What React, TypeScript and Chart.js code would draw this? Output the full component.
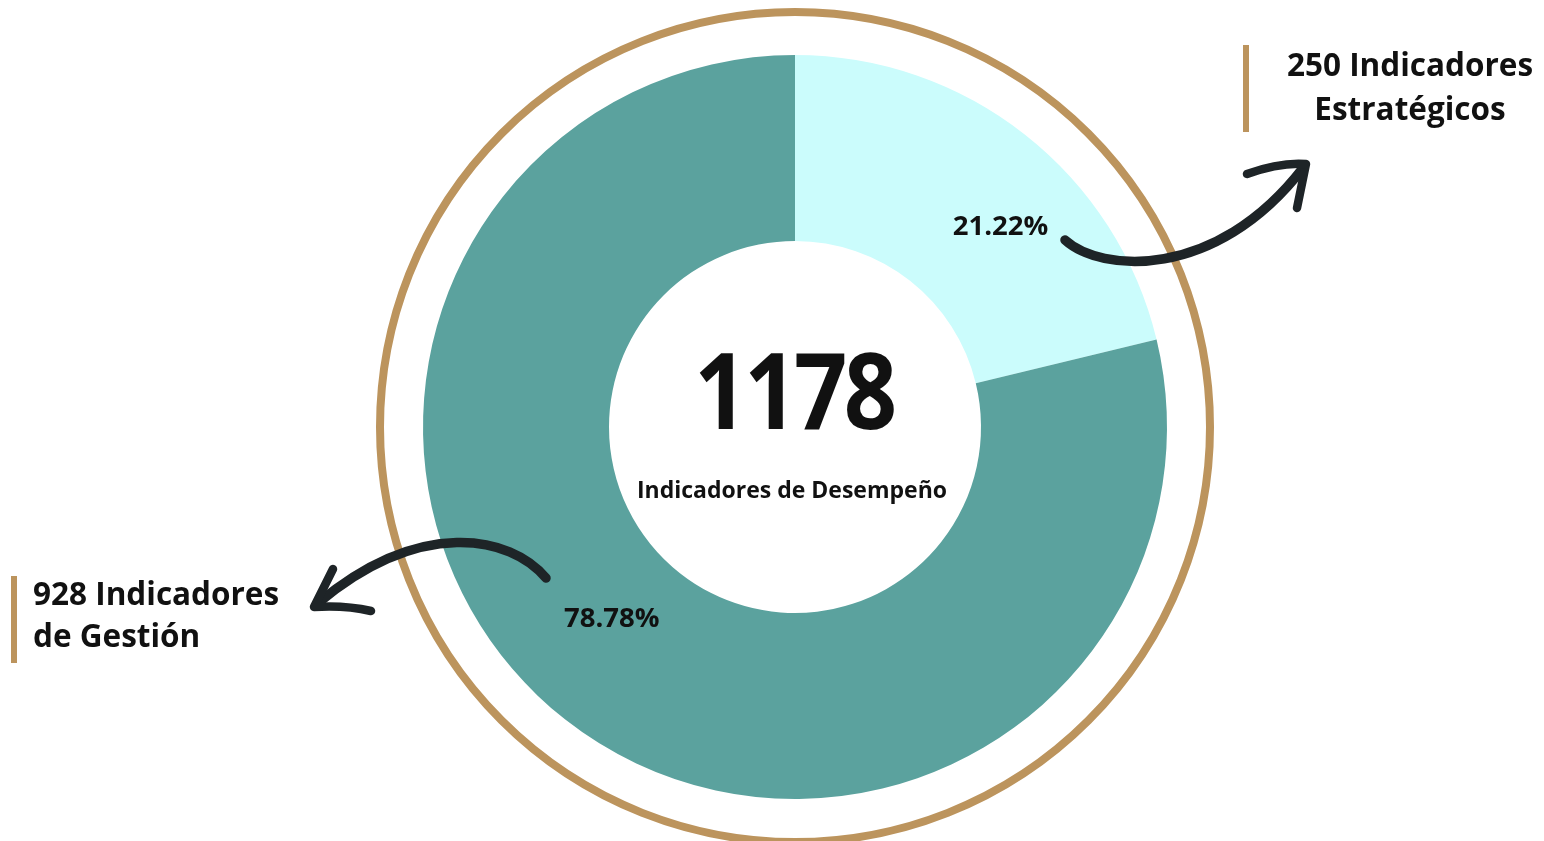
import React, { useEffect, useRef } from "react";
import { Chart, registerables } from "chart.js";

Chart.register(...registerables);

const categories = ["Indicadores Estratégicos", "Indicadores de Gestión"];
const counts = [250, 928];
const percentLabels = ["21.22%", "78.78%"];
const totalLabel = "1178";
const centerCaption = "Indicadores de Desempeño";
const sideLabels = [
  ["250 Indicadores", "Estratégicos"],
  ["928 Indicadores", "de Gestión"],
];
const segmentColors = ["#CBFCFC", "#5BA29E"];

const GOLD = "#BC945D";
const DARK = "#1E2427";
const TEXT = "#111111";
const FONT = "'Open Sans', 'Noto Sans', sans-serif";

// label placement as (fraction along the arc, fraction of outer radius)
const labelPlacement = [
  [0.596, 0.774],
  [0.52, 0.711],
];

const overlayPlugin = {
  id: "overlay",
  beforeDatasetsDraw(chart: any) {
    const ctx = chart.ctx;
    const arc = chart.getDatasetMeta(0).data[0];
    if (!arc) return;
    const { x, y, outerRadius } = arc.getProps(["x", "y", "outerRadius"], true);
    ctx.save();
    ctx.beginPath();
    ctx.arc(x, y, outerRadius + 43, 0, Math.PI * 2);
    ctx.strokeStyle = GOLD;
    ctx.lineWidth = 8;
    ctx.stroke();
    ctx.restore();
  },
  afterDatasetsDraw(chart: any) {
    const ctx = chart.ctx;
    const meta = chart.getDatasetMeta(0);
    const arc0 = meta.data[0];
    const { x: cx, y: cy } = arc0.getProps(["x", "y"], true);
    ctx.save();

    // percent labels
    ctx.fillStyle = TEXT;
    ctx.textAlign = "center";
    ctx.textBaseline = "alphabetic";
    ctx.font = `700 27.5px ${FONT}`;
    meta.data.forEach((el: any, i: number) => {
      const p = el.getProps(["startAngle", "endAngle", "outerRadius"], true);
      const a = p.startAngle + (p.endAngle - p.startAngle) * labelPlacement[i][0];
      const r = p.outerRadius * labelPlacement[i][1];
      ctx.fillText(percentLabels[i], cx + r * Math.cos(a), cy + r * Math.sin(a) + 9.5);
    });

    // center texts
    ctx.save();
    ctx.translate(cx - 1, cy + 2);
    ctx.scale(0.88, 1);
    ctx.font = `700 106px ${FONT}`;
    ctx.letterSpacing = "-4px";
    ctx.fillText(totalLabel, 0, 0);
    ctx.restore();
    ctx.letterSpacing = "0px";
    ctx.font = `700 23px ${FONT}`;
    ctx.fillText(centerCaption, cx - 3, cy + 71);

    // arrows
    ctx.strokeStyle = DARK;
    ctx.lineCap = "round";
    ctx.lineJoin = "round";
    ctx.lineWidth = 9.5;
    ctx.beginPath();
    ctx.moveTo(1065, 240);
    ctx.bezierCurveTo(1100, 272, 1215, 282, 1303, 168);
    ctx.stroke();
    ctx.lineWidth = 8.5;
    ctx.beginPath();
    ctx.moveTo(1247, 174);
    ctx.quadraticCurveTo(1280, 162, 1306, 164);
    ctx.lineTo(1297, 208);
    ctx.stroke();

    ctx.lineWidth = 9.5;
    ctx.beginPath();
    ctx.moveTo(546, 578);
    ctx.bezierCurveTo(510, 535, 420, 518, 318, 603);
    ctx.stroke();
    ctx.lineWidth = 8.5;
    ctx.beginPath();
    ctx.moveTo(333, 569);
    ctx.lineTo(314, 607);
    ctx.quadraticCurveTo(345, 605, 371, 611);
    ctx.stroke();

    // side labels
    ctx.fillStyle = GOLD;
    ctx.fillRect(1243, 45, 6, 87);
    ctx.fillRect(11, 576, 6, 87);
    ctx.fillStyle = TEXT;
    ctx.font = `700 31.5px ${FONT}`;
    ctx.textAlign = "center";
    ctx.fillText(sideLabels[0][0], 1410, 76);
    ctx.fillText(sideLabels[0][1], 1410, 120);
    ctx.textAlign = "left";
    ctx.fillText(sideLabels[1][0], 33, 605);
    ctx.fillText(sideLabels[1][1], 33, 647);
    ctx.restore();
  },
};

export default function App() {
  const ref = useRef<HTMLCanvasElement | null>(null);
  useEffect(() => {
    if (!ref.current) return;
    const chart = new Chart(ref.current, {
      type: "doughnut",
      data: {
        labels: categories,
        datasets: [
          {
            data: counts,
            backgroundColor: segmentColors,
            borderWidth: 0,
            hoverOffset: 0,
          },
        ],
      },
      options: {
        responsive: false,
        animation: false,
        cutout: "50%",
        layout: { padding: { left: 423, right: 377, top: 55, bottom: 42 } },
        plugins: {
          legend: { display: false },
          tooltip: { enabled: false },
        },
      },
      plugins: [overlayPlugin],
    });
    return () => chart.destroy();
  }, []);
  return (
    <div style={{ position: "fixed", left: 0, top: 0, width: 1544, height: 841, background: "#fff" }}>
      <canvas ref={ref} width={1544} height={841} style={{ display: "block" }} />
    </div>
  );
}
